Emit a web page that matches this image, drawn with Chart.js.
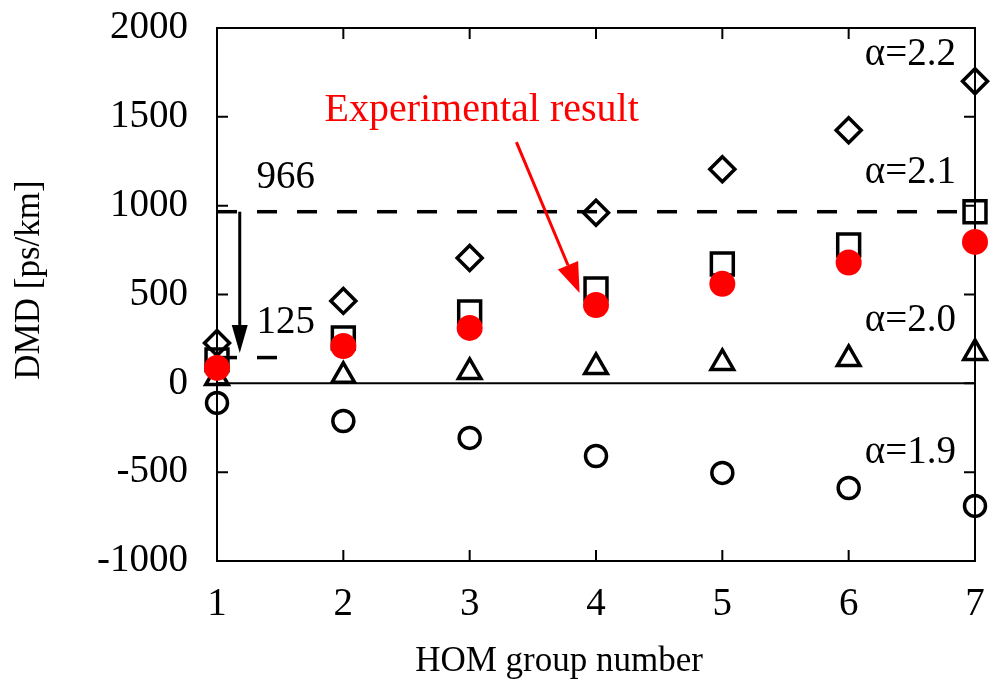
<!DOCTYPE html>
<html>
<head>
<meta charset="utf-8">
<script src="https://cdn.jsdelivr.net/npm/chart.js@4"></script>
<style>
  html, body { margin: 0; padding: 0; background: #fff; }
</style>
</head>
<body>
<canvas id="dmd-chart" width="994" height="684"></canvas>
<script>
// HOM group numbers and DMD values [ps/km]
const groups = [1, 2, 3, 4, 5, 6, 7];
const alpha22 = [227, 464, 706, 960, 1205, 1425, 1700];
const alpha21 = [132, 255, 402, 531, 672, 779, 966];
const experiment = [87, 210, 312, 441, 560, 680, 796];
const alpha20 = [30, 42, 64, 92, 115, 137, 171];
const alpha19 = [-110, -212, -307, -409, -504, -589, -690];

const yTicks = [-1000, -500, 0, 500, 1000, 1500, 2000];
const maxDmd = 966;
const minDmd = 145;

// annotation labels: [text, x, y]
const alphaLabels = [
  ["α=2.2", 6.85, 1848],
  ["α=2.1", 6.85, 1184],
  ["α=2.0", 6.85, 351],
  ["α=1.9", 6.85, -389]
];
const valueLabels = [
  ["966", 1.545, 1156],
  ["125", 1.545, 340]
];
const expLabel = ["Experimental result", 3.095, 1533];
const expArrow = [[3.37, 1358], [3.87, 509]];
const dmdArrow = [[1.18, 966], [1.18, 171]];

const serif = "'Liberation Serif', 'Times New Roman', serif";

function toPts(ys) {
  return groups.map((g, i) => ({ x: g, y: ys[i] }));
}

function drawArrow(ctx, x1, y1, x2, y2, len, half, color) {
  const a = Math.atan2(y2 - y1, x2 - x1);
  const bx = x2 - Math.cos(a) * len;
  const by = y2 - Math.sin(a) * len;
  ctx.save();
  ctx.strokeStyle = color;
  ctx.fillStyle = color;
  ctx.lineWidth = 3;
  ctx.beginPath();
  ctx.moveTo(x1, y1);
  ctx.lineTo(bx, by);
  ctx.stroke();
  ctx.beginPath();
  ctx.moveTo(x2, y2);
  ctx.lineTo(bx + Math.sin(a) * half, by - Math.cos(a) * half);
  ctx.lineTo(bx - Math.sin(a) * half, by + Math.cos(a) * half);
  ctx.closePath();
  ctx.fill();
  ctx.restore();
}

const framePlugin = {
  id: "frame",
  beforeDatasetsDraw(chart) {
    const { ctx, chartArea: a, scales: { x, y } } = chart;
    ctx.save();
    ctx.strokeStyle = "#000";
    ctx.lineWidth = 2;
    ctx.strokeRect(a.left, a.top, a.right - a.left, a.bottom - a.top);
    ctx.beginPath();
    y.ticks.forEach(t => {
      const py = y.getPixelForValue(t.value);
      ctx.moveTo(a.left, py); ctx.lineTo(a.left + 11, py);
      ctx.moveTo(a.right, py); ctx.lineTo(a.right - 11, py);
    });
    x.ticks.forEach(t => {
      const px = x.getPixelForValue(t.value);
      ctx.moveTo(px, a.bottom); ctx.lineTo(px, a.bottom - 11);
      ctx.moveTo(px, a.top); ctx.lineTo(px, a.top + 11);
    });
    ctx.stroke();
    ctx.restore();
  },
  afterDatasetsDraw(chart) {
    const { ctx, scales: { x, y } } = chart;
    const px = v => x.getPixelForValue(v);
    const py = v => y.getPixelForValue(v);

    drawArrow(ctx, px(dmdArrow[0][0]), py(dmdArrow[0][1]), px(dmdArrow[1][0]), py(dmdArrow[1][1]), 28, 8, "#000");
    drawArrow(ctx, px(expArrow[0][0]), py(expArrow[0][1]), px(expArrow[1][0]), py(expArrow[1][1]), 30, 11, "#ff0000");

    ctx.save();
    ctx.textBaseline = "middle";
    ctx.font = "39px " + serif;
    ctx.fillStyle = "#000";
    ctx.textAlign = "right";
    alphaLabels.forEach(([t, vx, vy]) => ctx.fillText(t, px(vx), py(vy)));
    ctx.textAlign = "center";
    valueLabels.forEach(([t, vx, vy]) => ctx.fillText(t, px(vx), py(vy)));
    ctx.fillStyle = "#ff0000";
    ctx.font = "40px " + serif;
    ctx.fillText(expLabel[0], px(expLabel[1]), py(expLabel[2]));

    // axis titles
    ctx.fillStyle = "#000";
    ctx.font = "35px " + serif;
    ctx.fillText("HOM group number", 559, 662);
    ctx.translate(30, 280);
    ctx.rotate(-Math.PI / 2);
    ctx.fillText("DMD [ps/km]", 0, 0);
    ctx.restore();
  }
};

const hollow = (label, ys, style, r, order) => ({
  label: label,
  data: toPts(ys),
  pointStyle: style,
  pointRadius: r,
  pointHoverRadius: r,
  pointBorderWidth: 3.5,
  pointBorderColor: "#000",
  pointBackgroundColor: "rgba(0,0,0,0)",
  showLine: false,
  clip: false,
  order: order
});

const ctx = document.getElementById("dmd-chart").getContext("2d");
new Chart(ctx, {
  type: "scatter",
  data: {
    datasets: [
      {
        label: "Experimental result",
        data: toPts(experiment),
        pointStyle: "circle",
        pointRadius: 13,
        pointHoverRadius: 13,
        pointBorderWidth: 0,
        pointBackgroundColor: "#ff0000",
        pointBorderColor: "#ff0000",
        showLine: false,
        clip: false,
        order: 0
      },
      hollow("α=2.2", alpha22, "rectRot", 12.5, 1),
      hollow("α=2.1", alpha21, "rect", 15.5, 2),
      hollow("α=2.0", alpha20, "triangle", 13, 3),
      hollow("α=1.9", alpha19, "circle", 10.5, 4),
      {
        label: "966",
        data: [{ x: 1, y: maxDmd }, { x: 7, y: maxDmd }],
        showLine: true,
        borderColor: "#000",
        borderWidth: 3.5,
        borderDash: [20, 20],
        pointRadius: 0,
        order: 6
      },
      {
        label: "125",
        data: [{ x: 1, y: minDmd }, { x: 1.6, y: minDmd }],
        showLine: true,
        borderColor: "#000",
        borderWidth: 3.5,
        borderDash: [20, 20],
        pointRadius: 0,
        order: 6
      },
      {
        label: "zero",
        data: [{ x: 1, y: 0 }, { x: 7, y: 0 }],
        showLine: true,
        borderColor: "#000",
        borderWidth: 2,
        pointRadius: 0,
        order: 7
      }
    ]
  },
  options: {
    responsive: false,
    animation: false,
    layout: { padding: { top: 28, right: 18, left: 0, bottom: 0 } },
    plugins: { legend: { display: false }, tooltip: { enabled: false } },
    scales: {
      x: {
        type: "linear",
        min: 1,
        max: 7,
        grid: { display: false },
        border: { display: false },
        afterFit: s => {
          s.height = 123;
          s.paddingLeft = 0;
          s.paddingRight = 0;
        },
        afterBuildTicks: s => { s.ticks = groups.map(v => ({ value: v })); },
        ticks: {
          padding: 12.5,
          color: "#000",
          font: { family: serif, size: 39 },
          callback: v => String(v)
        }
      },
      y: {
        min: -1000,
        max: 2000,
        grid: { display: false },
        border: { display: false },
        afterFit: s => {
          s.width = 217;
          s.paddingTop = 0;
          s.paddingBottom = 0;
        },
        afterBuildTicks: s => { s.ticks = yTicks.map(v => ({ value: v })); },
        ticks: {
          padding: 21,
          color: "#000",
          font: { family: serif, size: 39 },
          callback: v => String(v)
        }
      }
    }
  },
  plugins: [framePlugin]
});
</script>
</body>
</html>
